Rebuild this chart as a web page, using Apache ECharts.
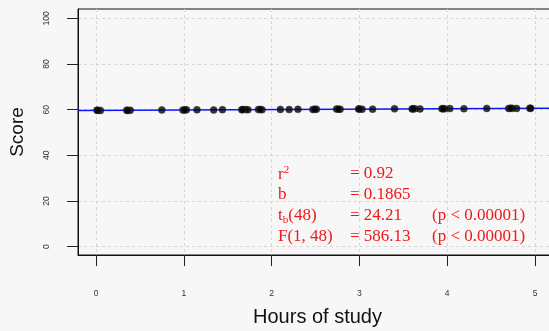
<!DOCTYPE html>
<html>
<head>
<meta charset="utf-8">
<script src="https://cdn.jsdelivr.net/npm/echarts@6/dist/echarts.min.js"></script>
<style>
  html, body { margin: 0; padding: 0; background: #f7f7f7; }
  #chart { width: 549px; height: 331px; }
</style>
</head>
<body>
<div id="chart"></div>
<script>
// Hours of study for each student (n = 50)
const hours = [
  0.01, 0.05, 0.02, 0.35, 0.39, 0.36, 0.75, 0.99, 1.03, 1.01,
  1.15, 1.34, 1.44, 1.66, 1.70, 1.73, 1.67, 1.85, 1.89, 1.87,
  2.10, 2.20, 2.30, 2.47, 2.51, 2.49, 2.74, 2.78, 2.76, 2.99,
  3.03, 3.00, 3.15, 3.40, 3.60, 3.63, 3.69, 3.61, 3.94, 3.97,
  4.03, 3.95, 4.19, 4.45, 4.70, 4.74, 4.79, 4.72, 4.94, 4.95
];
// Exam score for each student
const scores = [
  59.78, 59.66, 59.72, 59.81, 59.73, 59.70, 59.90, 59.84, 59.95, 59.86,
  59.93, 59.89, 60.02, 59.96, 60.07, 59.99, 60.04, 60.10, 60.01, 60.08,
  60.14, 60.06, 60.17, 60.12, 60.21, 60.15, 60.26, 60.18, 60.24, 60.30,
  60.22, 60.27, 60.25, 60.37, 60.33, 60.42, 60.36, 60.40, 60.47, 60.40,
  60.49, 60.42, 60.44, 60.57, 60.54, 60.62, 60.56, 60.60, 60.66, 60.59
];

// Axis ticks
const xTicks = [0, 1, 2, 3, 4, 5];
const yTicks = [0, 20, 40, 60, 80, 100];

// Fitted regression: score = intercept + slope * hours
const intercept = 59.7;
const slope = 0.1865;

// Summary statistics printed in the plot
const statNames = ['{m|r}{sup|2}', '{m|b}', '{m|t}{sub|b}{m|(48)}', '{m|F(1, 48)}'];
const statValues = ['= 0.92', '= ' + slope, '= 24.21', '= 586.13'];
const statP = ['', '', '(p < 0.00001)', '(p < 0.00001)'];

const xMin = -0.205, xMax = 5.25;
const yMin = -3.63, yMax = 104.1;

const points = hours.map((h, i) => [h, scores[i]]);
const fitLine = [xMin, xMax].map(x => [x, intercept + slope * x]);

const chart = echarts.init(document.getElementById('chart'), null, { renderer: 'canvas' });

const red = '#f01818';
const serif = '"Liberation Serif", "DejaVu Serif", serif';
const sans = '"Liberation Sans", Arial, sans-serif';
const rowTop = [165, 186, 207, 228];
const graphics = [];
statNames.forEach((name, i) => {
  graphics.push({
    type: 'text', left: 278, top: rowTop[i],
    style: {
      text: name, fill: red,
      rich: {
        m: { fontFamily: serif, fontSize: 17, fill: red, lineHeight: 20 },
        sup: { fontFamily: serif, fontSize: 11, fill: red, verticalAlign: 'top', lineHeight: 20, padding: [0, 0, 7, 0] },
        sub: { fontFamily: serif, fontSize: 11, fill: red, verticalAlign: 'bottom', lineHeight: 20, padding: [4, 0, 0, 0] }
      }
    }
  });
  graphics.push({
    type: 'text', left: 350, top: rowTop[i],
    style: { text: statValues[i], fill: red, font: '17px ' + serif }
  });
  if (statP[i]) {
    graphics.push({
      type: 'text', left: 432, top: rowTop[i],
      style: { text: statP[i], fill: red, font: '17px ' + serif }
    });
  }
});

const gridLine = { show: true, lineStyle: { color: '#d6d6d6', width: 1, type: [3, 3] } };

chart.setOption({
  backgroundColor: '#f7f7f7',
  animation: false,
  grid: {
    left: 78, top: 9, right: -8, bottom: 76,
    outerBoundsMode: 'none', containLabel: false,
    show: true, backgroundColor: '#f7f7f7', borderColor: '#111', borderWidth: 1
  },
  xAxis: {
    type: 'value', min: xMin, max: xMax,
    name: 'Hours of study', nameLocation: 'middle', nameGap: 52,
    nameTextStyle: { fontFamily: sans, fontSize: 20, color: '#111' },
    axisLine: { show: true, onZero: false, lineStyle: { color: '#111', width: 1 } },
    axisTick: { show: true, inside: false, length: 11, customValues: xTicks, lineStyle: { color: '#222' } },
    axisLabel: { customValues: xTicks, margin: 34, fontFamily: sans, fontSize: 8.5, color: '#333' },
    splitLine: gridLine
  },
  yAxis: {
    type: 'value', min: yMin, max: yMax,
    name: 'Score', nameLocation: 'middle', nameGap: 51,
    nameTextStyle: { fontFamily: sans, fontSize: 19, color: '#111' },
    axisLine: { show: true, onZero: false, lineStyle: { color: '#111', width: 1 } },
    axisTick: { show: true, inside: false, length: 11, customValues: yTicks, lineStyle: { color: '#222' } },
    axisLabel: { customValues: yTicks, margin: 27, rotate: 90, fontFamily: sans, fontSize: 8.5, color: '#333' },
    splitLine: gridLine
  },
  graphic: graphics,
  series: [
    {
      type: 'line', data: fitLine, symbol: 'none', clip: true, z: 2,
      lineStyle: { color: '#0a14ff', width: 1.6 }
    },
    {
      type: 'scatter', data: points, symbol: 'circle', symbolSize: 7, z: 3,
      itemStyle: { color: '#050505', borderColor: '#333', borderWidth: 0.6 }
    }
  ]
});
</script>
</body>
</html>
